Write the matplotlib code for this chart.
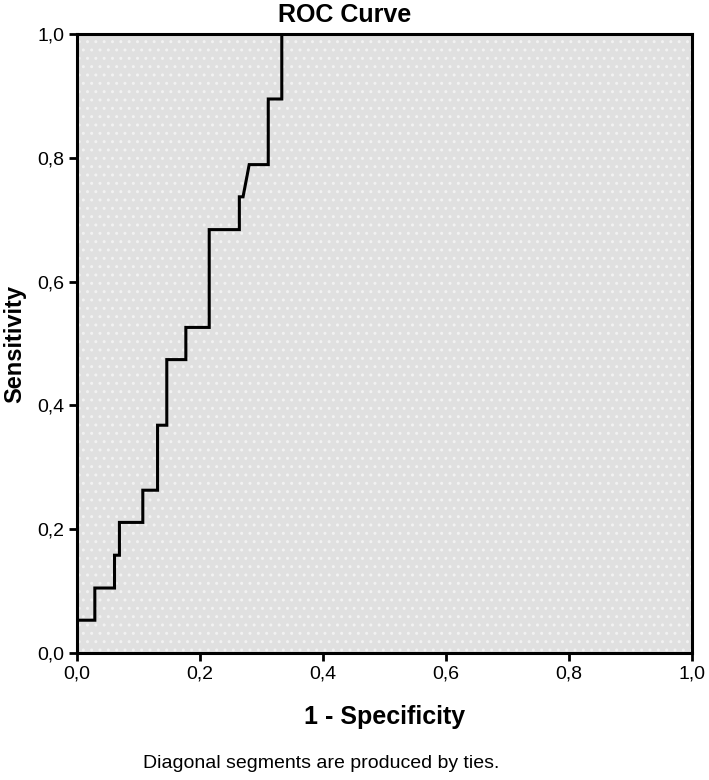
import matplotlib.pyplot as plt
from matplotlib.patches import Rectangle

# ROC curve points (1 - specificity, sensitivity)
fpr = [0.0, 0.0, 0.029, 0.029, 0.061, 0.061, 0.069, 0.069, 0.107, 0.107,
       0.131, 0.131, 0.146, 0.146, 0.177, 0.177, 0.215, 0.215, 0.264, 0.264,
       0.270, 0.280, 0.311, 0.311, 0.333, 0.333, 1.0]
tpr = [0.0, 0.053, 0.053, 0.105, 0.105, 0.158, 0.158, 0.211, 0.211, 0.263,
       0.263, 0.368, 0.368, 0.474, 0.474, 0.526, 0.526, 0.684, 0.684, 0.737,
       0.737, 0.789, 0.789, 0.895, 0.895, 1.0, 1.0]

ticks = [0.0, 0.2, 0.4, 0.6, 0.8, 1.0]
tick_labels = ['0,0', '0,2', '0,4', '0,6', '0,8', '1,0']

plt.rcParams['font.family'] = ['Liberation Sans Narrow', 'Liberation Sans', 'DejaVu Sans']
plt.rcParams['hatch.color'] = '#f2f2f2'
plt.rcParams['hatch.linewidth'] = 1.0

fig = plt.figure(figsize=(7.09, 7.80), dpi=100)
ax = fig.add_axes([0.1086, 0.1628, 0.8674, 0.7936])

# dotted grey background like SPSS
ax.add_patch(Rectangle((0, 0), 1, 1, facecolor='#e0e0e0', hatch='..',
                       linewidth=0, zorder=0))

ax.plot(fpr, tpr, color='black', linewidth=2.2, zorder=3, solid_joinstyle='miter')

ax.set_xlim(0, 1)
ax.set_ylim(0, 1)
ax.set_xticks(ticks)
ax.set_xticklabels(tick_labels, fontsize=14)
ax.set_yticks(ticks)
ax.set_yticklabels(tick_labels, fontsize=14)
ax.tick_params(direction='out', length=6, width=2, pad=3)

for s in ax.spines.values():
    s.set_linewidth(2.2)

ax.set_xlabel('1 - Specificity', fontsize=18, fontweight='bold',
              family=['Liberation Sans', 'DejaVu Sans'], labelpad=16)
ax.set_ylabel('Sensitivity', fontsize=17, fontweight='bold',
              family=['Liberation Sans', 'DejaVu Sans'], labelpad=8)

fig.text(345 / 709, 1 - 15 / 780, 'ROC Curve', ha='center', va='center',
         fontsize=18, fontweight='bold', family=['Liberation Sans', 'DejaVu Sans'])
fig.text(321 / 709, 1 - 763 / 780, 'Diagonal segments are produced by ties.',
         ha='center', va='center', fontsize=14)

fig.savefig('out.png', dpi=100)
